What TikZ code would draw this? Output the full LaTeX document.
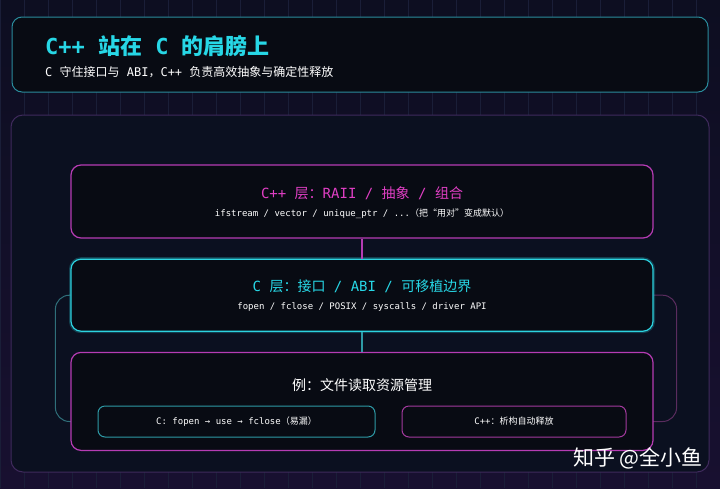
\documentclass[tikz,border=0pt]{standalone}
\usepackage{fontspec}
\setmainfont{DejaVu Sans Mono}
\newfontfamily\cjk{Noto Sans CJK SC}
\newcommand{\zh}[1]{{\cjk #1}}
\usetikzlibrary{positioning}
\definecolor{bgtop}{HTML}{0D0E21}
\definecolor{bgbot}{HTML}{181030}
\definecolor{gridc}{HTML}{1A1E38}
\definecolor{panelfill}{HTML}{0B1020}
\definecolor{panelc}{HTML}{3F2A5C}
\definecolor{boxfill}{HTML}{080B13}
\definecolor{bannerc}{HTML}{2A8C9C}
\definecolor{cyanc}{HTML}{2CD3E0}
\definecolor{cyantxt}{HTML}{27D7E6}
\definecolor{magc}{HTML}{B63CB4}
\definecolor{magtxt}{HTML}{E03FC4}
\definecolor{tealchip}{HTML}{2E9AA6}
\definecolor{plumchip}{HTML}{A33A9E}
\definecolor{tealdim}{HTML}{2F6F7A}
\definecolor{plumdim}{HTML}{5A2C5E}
\pgfdeclarelayer{back}
\pgfdeclarelayer{mid}
\pgfsetlayers{back,mid,main}

\begin{document}
\begin{tikzpicture}[x=1pt, y=-1pt, line join=round]
  \tikzstyle{panel}=[draw, rounded corners=10pt, fill=boxfill, inner sep=0pt]
  \tikzstyle{layer}=[panel, minimum width=582pt, line width=1.2pt]
  \tikzstyle{chip}=[draw, rounded corners=7pt, fill=boxfill, minimum height=31pt,
                    line width=1pt, text=white, font=\fontsize{9}{10}\selectfont]
  \tikzstyle{head}=[inner sep=0pt, font=\fontsize{14}{16}\selectfont]
  \tikzstyle{note}=[inner sep=0pt, text=white, font=\fontsize{9}{10}\selectfont]
  \tikzstyle{link}=[line width=1pt, rounded corners=14pt]
\useasboundingbox (0,0) rectangle (720,488);
\begin{pgfonlayer}{back}
\shade[top color=bgtop, bottom color=bgbot] (0,0) rectangle (720,488);
\draw[gridc, line width=0.5pt, step=24] (0,0) grid (720,488);
% banner and outer panel
\node[panel, draw=bannerc, line width=1pt, minimum width=696pt, minimum height=75pt] (banner) at (360,54.5) {};
\node[panel, draw=panelc, fill=panelfill, line width=1pt, rounded corners=12pt,
      minimum width=698pt, minimum height=357pt] (stage) at (360,293.5) {};
\end{pgfonlayer}

\node[anchor=west, inner sep=0pt, text=cyantxt, font=\fontsize{22}{24}\selectfont\bfseries] (title) at (45,46)
  {C++ \zh{站在} C \zh{的肩膀上}};
\node[anchor=west, inner sep=0pt, text=white, font=\fontsize{12}{14}\selectfont] (subtitle) at (45,72)
  {C \zh{守住接口与} ABI\zh{，}C++ \zh{负责高效抽象与确定性释放}};

% the three layers
\node[layer, draw=magc, minimum height=73pt] (cpp) at (362,201.5) {};
\node[layer, draw=cyanc, minimum height=72pt, below=20pt of cpp,
      preaction={draw=cyanc, line width=4pt, opacity=0.25}] (clayer) {};
\node[layer, draw=magc, minimum height=98pt, below=20pt of clayer] (demo) {};

\node[head, text=magtxt] (cpphead) at (362,193) {C++ \zh{层：}RAII / \zh{抽象} / \zh{组合}};
\node[note] (cppnote) at (362,214) {ifstream / vector / unique\_ptr / ...\zh{（把“用对”变成默认）}};
\node[head, text=cyantxt] (chead) at (362,286) {C \zh{层：接口} / ABI / \zh{可移植边界}};
\node[note] (cnote) at (362,307) {fopen / fclose / POSIX / syscalls / driver API};
\node[head, text=white] (demohead) at (362,385) {\zh{例：文件读取资源管理}};

\node[chip, draw=tealchip, minimum width=277pt] (cfx) at (236.5,421.5)
  {C: fopen → use → fclose\zh{（易漏）}};
\node[chip, draw=plumchip, minimum width=224pt] (cppfx) at (514,421.5)
  {C++\zh{：析构自动释放}};

\draw[magc, line width=1.2pt] (cpp.south) -- (clayer.north);
\draw[tealchip, line width=1.2pt] (clayer.south) -- (demo.north);
\begin{pgfonlayer}{mid}
\draw[link, draw=tealdim] (clayer.west) -- ++(-15,0) |- (cfx.west);
\draw[link, draw=plumdim] (clayer.east) -- ++(23,0) |- (cppfx.east);
\end{pgfonlayer}

\node[anchor=east, inner sep=0pt, text=white, font=\cjk\fontsize{21}{24}\selectfont] (mark) at (703,458)
  {知乎 @全小鱼};
\end{tikzpicture}
\end{document}
